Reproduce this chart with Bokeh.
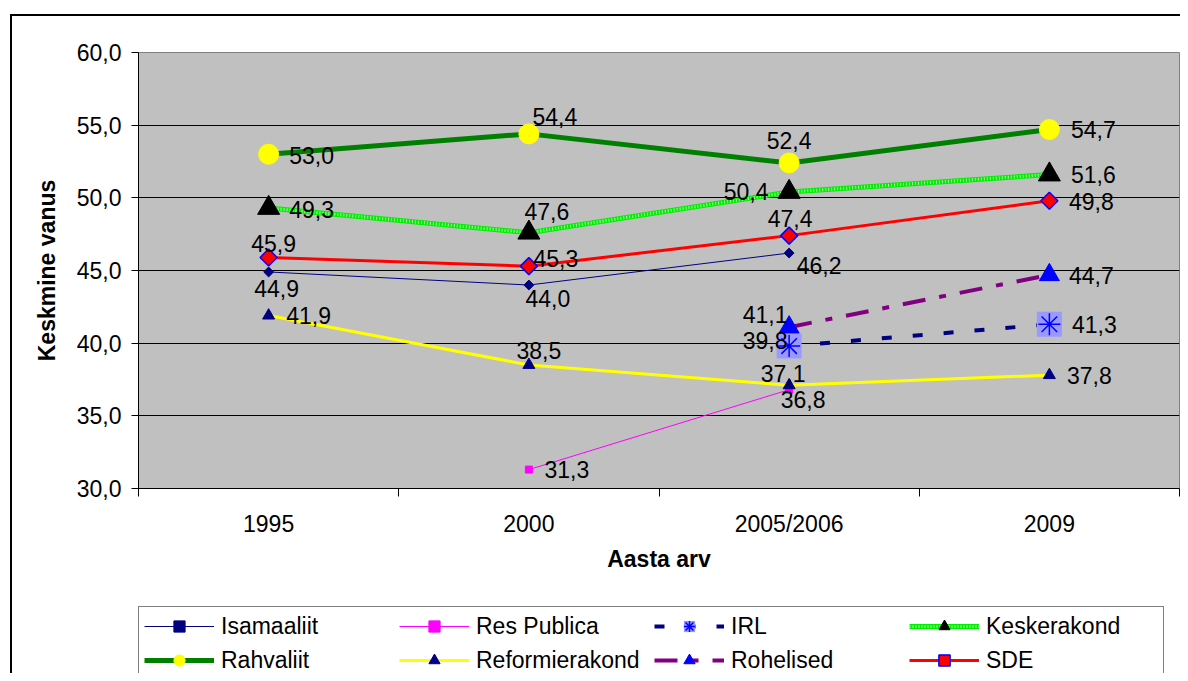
import math
from bokeh.plotting import figure
from bokeh.layouts import column
from bokeh.models import (Range1d, LinearAxis, FixedTicker, Legend, LegendItem, ColumnDataSource)
from bokeh.core.properties import value
from bokeh.embed import file_html
from bokeh.resources import INLINE

# ---------------- data ----------------
years = ["1995", "2000", "2005/2006", "2009"]
isamaaliit = [44.9, 44.0, 46.2, None]
res_publica = [None, 31.3, 36.8, None]
irl = [None, None, 39.8, 41.3]
keskerakond = [49.3, 47.6, 50.4, 51.6]
rahvaliit = [53.0, 54.4, 52.4, 54.7]
reformierakond = [41.9, 38.5, 37.1, 37.8]
rohelised = [None, None, 41.1, 44.7]
sde = [45.9, 45.3, 47.4, 49.8]
y_ticks = [30, 35, 40, 45, 50, 55, 60]

# label placement (pixel offsets of label centre from its point), style only
label_offsets = {
    "Isamaaliit": [(8, 17), (19, 13), (30, 12)],
    "Res Publica": [(38, 0), (14, 10)],
    "IRL": [(-24, -6), (45, 0)],
    "Keskerakond": [(43, 1), (18, -21), (-43, -1), (44, 0)],
    "Rahvaliit": [(43, 1), (26, -17), (0, -22), (44, 0)],
    "Reformierakond": [(40, 0), (10, -14), (-6, -12), (40, 0)],
    "Rohelised": [(-24, -13), (42, 1)],
    "SDE": [(5, -14), (27, -8), (1, -17), (42, 1)],
}

FONT = value("Liberation Sans")
FS = "23px"

# category slots: each year occupies one unit band, its point at the band centre
n_cat = len(years)
cat_pos = {y: i + 0.5 for i, y in enumerate(years)}

W, H1, H2 = 1168, 589, 68
p = figure(width=W, height=H1, output_backend="svg", toolbar_location=None,
           x_range=Range1d(0, n_cat), y_range=Range1d(30, 60),
           x_axis_location=None,
           min_border_left=126, min_border_top=36, min_border_right=1, min_border_bottom=117)

p.background_fill_color = "#C0C0C0"
p.border_fill_color = "white"
p.outline_line_color = "#808080"
p.xgrid.visible = False
p.ygrid.grid_line_color = "#000000"
p.ygrid.grid_line_width = 1
p.ygrid.ticker = FixedTicker(ticks=y_ticks)

# y axis
ya = p.yaxis[0]
ya.ticker = FixedTicker(ticks=y_ticks)
ya.major_label_overrides = {t: f"{t:.1f}".replace(".", ",") for t in y_ticks}
ya.major_label_text_font = "Liberation Sans"
ya.major_label_text_font_size = FS
ya.major_label_text_color = "#000000"
ya.major_tick_out = 7
ya.major_tick_in = 0
ya.minor_tick_line_color = None
ya.major_label_standoff = 10
ya.axis_line_color = "#000000"
ya.axis_label = "Keskmine vanus"
ya.axis_label_text_font = "Liberation Sans"
ya.axis_label_text_font_style = "bold"
ya.axis_label_text_font_size = FS
ya.axis_label_text_color = "#000000"
ya.axis_label_standoff = 14

# x axis: tick marks at category edges + category labels at band centres
edge_ticks = list(range(n_cat + 1))
tick_axis = LinearAxis(ticker=FixedTicker(ticks=edge_ticks),
                       major_label_overrides={t: "" for t in edge_ticks},
                       major_label_text_font_size="1px", major_tick_out=8, major_tick_in=0,
                       minor_tick_line_color=None, axis_line_color="#000000",
                       major_label_standoff=0)
xa = LinearAxis(ticker=FixedTicker(ticks=[cat_pos[y] for y in years]),
                major_label_overrides={cat_pos[y]: y for y in years})
xa.axis_line_color = None
xa.major_tick_line_color = None
xa.minor_tick_line_color = None
xa.major_label_text_font = "Liberation Sans"
xa.major_label_text_font_size = FS
xa.major_label_text_color = "#000000"
xa.major_label_standoff = 8
xa.axis_label = "Aasta arv"
xa.axis_label_text_font = "Liberation Sans"
xa.axis_label_text_font_style = "bold"
xa.axis_label_text_font_size = FS
xa.axis_label_text_color = "#000000"
xa.axis_label_standoff = 6
p.add_layout(tick_axis, "below")
p.add_layout(xa, "below")


def pts(vals):
    xs = [cat_pos[y] for y, v in zip(years, vals) if v is not None]
    ys = [v for v in vals if v is not None]
    return xs, ys


series = [
    ("Isamaaliit", isamaaliit),
    ("Res Publica", res_publica),
    ("IRL", irl),
    ("Keskerakond", keskerakond),
    ("Rahvaliit", rahvaliit),
    ("Reformierakond", reformierakond),
    ("Rohelised", rohelised),
    ("SDE", sde),
]


def draw_series(fig, name, src):
    rs = []
    if name == "Isamaaliit":
        rs.append(fig.line("x", "y", source=src, line_color="#000080", line_width=1))
        rs.append(fig.scatter("x", "y", source=src, marker="square", angle=math.pi / 4, size=7,
                              fill_color="#000080", line_color="#000080"))
    elif name == "Res Publica":
        rs.append(fig.line("x", "y", source=src, line_color="#FF00FF", line_width=1))
        rs.append(fig.scatter("x", "y", source=src, marker="square", size=7,
                              fill_color="#FF00FF", line_color="#FF00FF"))
    elif name == "IRL":
        rs.append(fig.line("x", "y", source=src, line_color="#000080", line_width=4,
                           line_dash="10 21"))
        rs.append(fig.scatter("x", "y", source=src, marker="square", size=25,
                              fill_color="#9999FF", line_color=None))
        rs.append(fig.scatter("x", "y", source=src, marker="asterisk", size=22,
                              line_color="#0000FF", line_width=1.5))
    elif name == "Keskerakond":
        rs.append(fig.line("x", "y", source=src, line_color="#00EE00", line_width=5))
        rs.append(fig.line("x", "y", source=src, line_color="#AAFFAA", line_width=3,
                           line_dash="1 2"))
        rs.append(fig.scatter("x", "y", source=src, marker="triangle", size=22,
                              fill_color="#000000", line_color="#000000"))
    elif name == "Rahvaliit":
        rs.append(fig.line("x", "y", source=src, line_color="#008000", line_width=5))
        rs.append(fig.scatter("x", "y", source=src, marker="circle", size=20,
                              fill_color="#FFFF00", line_color="#FFFF00"))
    elif name == "Reformierakond":
        rs.append(fig.line("x", "y", source=src, line_color="#FFFF00", line_width=3))
        rs.append(fig.scatter("x", "y", source=src, marker="triangle", size=12,
                              fill_color="#000080", line_color="#000080"))
    elif name == "Rohelised":
        rs.append(fig.line("x", "y", source=src, line_color="#800080", line_width=4,
                           line_dash="23 14 7 14"))
        rs.append(fig.scatter("x", "y", source=src, marker="triangle", size=20,
                              fill_color="#0000FF", line_color="#0000FF"))
    elif name == "SDE":
        rs.append(fig.line("x", "y", source=src, line_color="#FF0000", line_width=3))
        rs.append(fig.scatter("x", "y", source=src, marker="square", angle=math.pi / 4, size=12,
                              fill_color="#FF0000", line_color="#0000FF", line_width=1.5))
    return rs


sources = {}
for name, vals in series:
    xs, ys = pts(vals)
    sources[name] = ColumnDataSource(dict(x=xs, y=ys))
    draw_series(p, name, sources[name])

# data labels
for name, vals in series:
    xs, ys = pts(vals)
    offs = label_offsets[name]
    src = ColumnDataSource(dict(x=xs, y=ys,
                                t=[f"{v:.1f}".replace(".", ",") for v in ys],
                                dx=[o[0] for o in offs], dy=[o[1] for o in offs]))
    p.text("x", "y", text="t", source=src, x_offset="dx", y_offset="dy",
           text_align="center", text_baseline="middle", text_font=FONT,
           text_font_size=value(FS), text_color="#000000")

# ---------------- legend strip below the chart ----------------
# the strip re-uses the same series (they fall outside its empty 0..1 y-range),
# so only the legend is visible there
p2 = figure(width=W, height=H2, output_backend="svg", toolbar_location=None,
            x_range=Range1d(0, n_cat), y_range=Range1d(0, 1),
            x_axis_location=None, y_axis_location=None,
            min_border=0, min_border_left=0, min_border_right=0,
            min_border_top=0, min_border_bottom=0)
p2.outline_line_color = None
p2.background_fill_color = "white"
p2.border_fill_color = "white"
p2.xgrid.visible = False
p2.ygrid.visible = False

legend_items = []
for name, _ in series:
    rs = draw_series(p2, name, sources[name])
    legend_items.append(LegendItem(label=name, renderers=rs))

legend = Legend(items=legend_items, orientation="horizontal", ncols=4)
legend.label_text_font = "Liberation Sans"
legend.label_text_font_size = FS
legend.label_text_color = "#000000"
legend.glyph_width = 70
legend.glyph_height = 28
legend.label_standoff = 7
legend.label_width = 172
legend.label_height = 28
legend.spacing = 6
legend.padding = 5
legend.margin = 0
legend.border_line_color = "#000000"
legend.border_line_width = 1
legend.background_fill_color = "white"
legend.background_fill_alpha = 1
legend.location = (0, -7)
p2.add_layout(legend, "center")

layout = column(p, p2, spacing=0)
layout.styles = {"border-left": "2px solid #000000", "border-top": "2px solid #000000",
                 "margin-left": "10px", "margin-top": "14px"}

open("out.html", "w").write(file_html(layout, INLINE))
